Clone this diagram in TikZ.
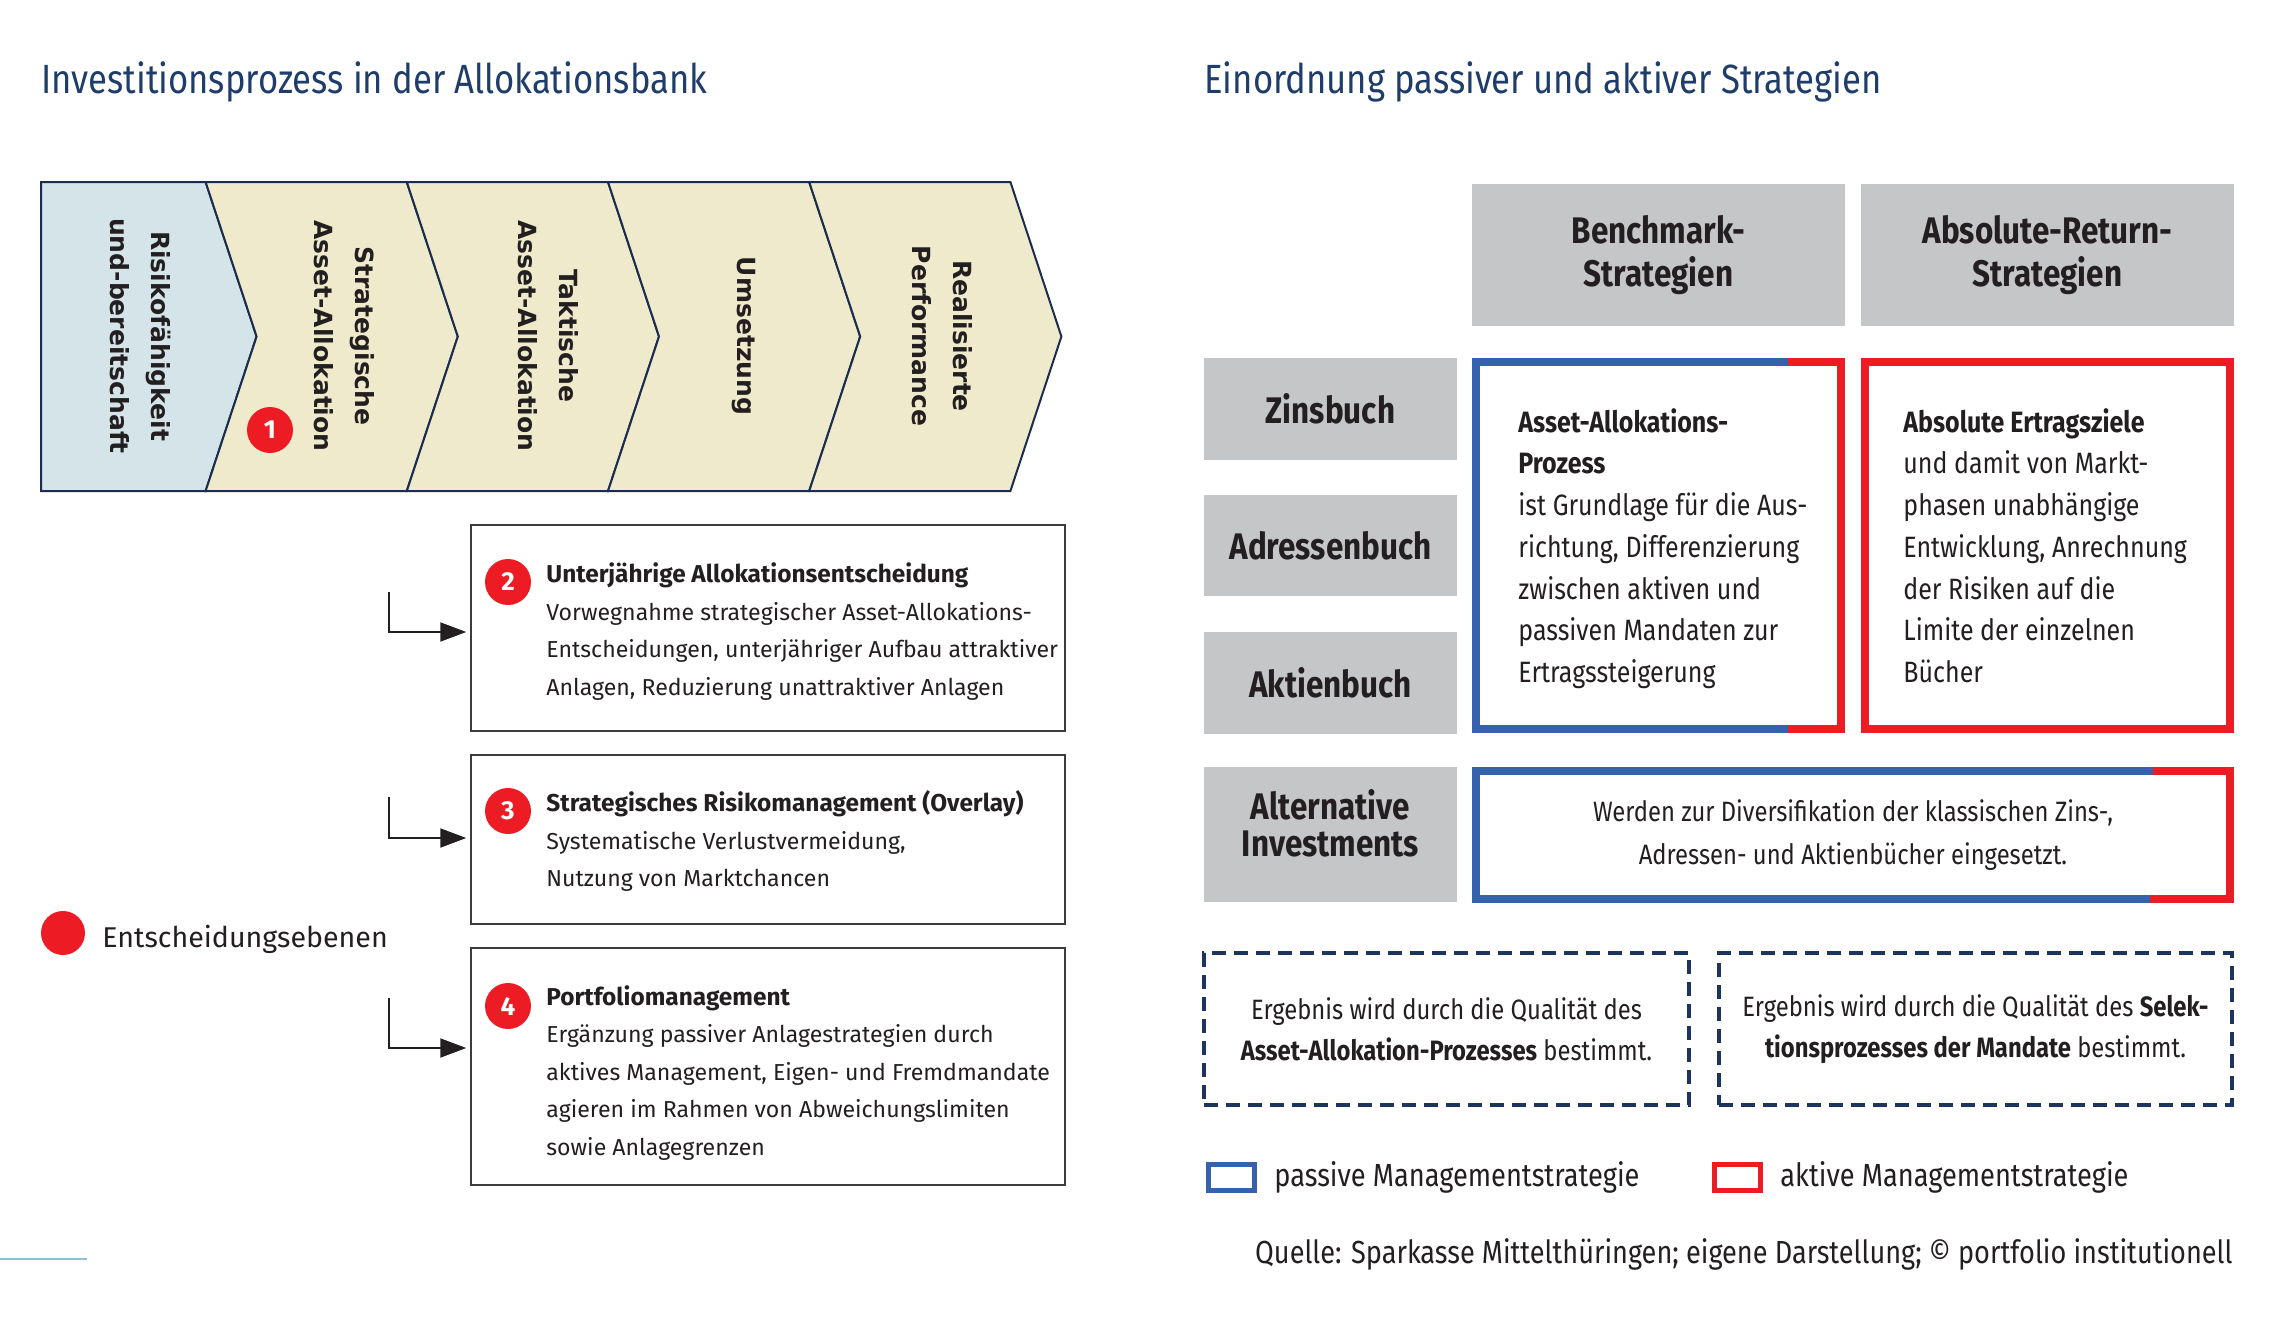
\documentclass[tikz,border=0pt]{standalone}
\usepackage{fontspec}
\setmainfont{Fira Sans}
\newfontfamily\condf[FakeStretch=0.85]{Fira Sans}
\newfontfamily\chevf{DejaVu Sans}
\usetikzlibrary{arrows.meta}
\definecolor{navy}{HTML}{1F3D6B}
\definecolor{navyd}{HTML}{1D355E}
\definecolor{chevline}{HTML}{1B2D4F}
\definecolor{chevblue}{HTML}{D4E4E8}
\definecolor{chevbeige}{HTML}{EFEACB}
\definecolor{txt}{HTML}{231F20}
\definecolor{boxline}{HTML}{3C3C3C}
\definecolor{redc}{HTML}{ED1C24}
\definecolor{bluec}{HTML}{3561AD}
\definecolor{grayc}{HTML}{C5C6C8}
\definecolor{lightline}{HTML}{8FC3CF}
\newcommand{\hdline}[1]{{\fontsize{12.2}{18.75}\selectfont\bfseries #1}}
\begin{document}
\begin{tikzpicture}[x=0.5pt,y=-0.5pt,
  chev/.style={draw=chevline,line width=1pt,line join=miter},
  chevtxt/.style={rotate=-90,align=center,inner sep=0,text=txt,font=\chevf\bfseries\fontsize{12.5}{20.5}\selectfont},
  numdot/.style={circle,fill=redc,text=white,minimum size=23pt,inner sep=0,font=\bfseries\fontsize{13}{13}\selectfont},
  infobox/.style={draw=boxline,line width=0.75pt,minimum width=297pt,inner sep=0},
  boxtxt/.style={anchor=west,align=left,inner sep=0,text=txt,font=\fontsize{11.55}{18.75}\selectfont},
  arr/.style={draw=txt,line width=1pt,shorten >=2pt,-{Triangle[length=13pt,width=9.5pt]}},
  title/.style={anchor=base west,inner sep=0,text=navy,font=\condf\fontsize{20.4}{22}\selectfont},
  graybox/.style={fill=grayc,inner sep=0,align=center,text=txt,font=\condf\bfseries\fontsize{18.5}{21.5}\selectfont},
  stratbox/.style={minimum width=186.5pt,minimum height=187.5pt,inner sep=0},
  bluebd/.style={draw=bluec,line width=4pt,line join=miter},
  redbd/.style={draw=redc,line width=4pt,line join=miter},
  strattxt/.style={anchor=west,align=left,inner sep=0,text=txt,font=\condf\fontsize{14.7}{20.85}\selectfont},
  dashbox/.style={draw=navyd,line width=1.75pt,dash pattern=on 7pt off 4pt,minimum height=76pt,inner sep=0,align=center,text=txt,font=\condf\fontsize{14}{20.5}\selectfont},
  legsq/.style={line width=2.5pt,minimum width=23pt,minimum height=13pt,inner sep=0,fill=white},
  legtxt/.style={anchor=base west,inner sep=0,text=txt,font=\condf\fontsize{16}{18}\selectfont}
]
\useasboundingbox (0,0) rectangle (2286,1317);
\fill[white] (0,0) rectangle (2286,1317);

% titles
\node[title] (t1) at (41,93) {Investitionsprozess in der Allokationsbank};
\node[title] (t2) at (1204,93) {Einordnung passiver und aktiver Strategien};

% chevron band
\filldraw[chev,fill=chevblue] (41,182) -- (205.6,182) -- (256.6,336.5) -- (205.6,491) -- (41,491) -- cycle;
\filldraw[chev,fill=chevbeige] (205.6,182) -- (406.8,182) -- (457.8,336.5) -- (406.8,491) -- (205.6,491) -- (256.6,336.5) -- cycle;
\filldraw[chev,fill=chevbeige] (406.8,182) -- (608.0,182) -- (659.0,336.5) -- (608.0,491) -- (406.8,491) -- (457.8,336.5) -- cycle;
\filldraw[chev,fill=chevbeige] (608.0,182) -- (809.2,182) -- (860.2,336.5) -- (809.2,491) -- (608.0,491) -- (659.0,336.5) -- cycle;
\filldraw[chev,fill=chevbeige] (809.2,182) -- (1010.4,182) -- (1061.4,336.5) -- (1010.4,491) -- (809.2,491) -- (860.2,336.5) -- cycle;

\node[chevtxt] (c1) at (140,336) {Risikofähigkeit\\und-bereitschaft};
\node[chevtxt] (c2) at (344,336) {Strategische\\Asset-Allokation};
\node[chevtxt] (c3) at (548,336) {Taktische\\Asset-Allokation};
\node[chevtxt] (c4) at (744,336) {Umsetzung};
\node[chevtxt] (c5) at (942,336) {Realisierte\\Performance};
\node[numdot] (n1) at (270,430) {1};

% left info boxes
\node[infobox,minimum height=103pt] (b2) at (768,628) {};
\node[infobox,minimum height=84.5pt] (b3) at (768,839.5) {};
\node[infobox,minimum height=118.5pt] (b4) at (768,1066.5) {};

\node[numdot] (n2) at (508,582) {2};
\node[numdot] (n3) at (508,811) {3};
\node[numdot] (n4) at (508,1006) {4};

\node[boxtxt] (x2) at (546,631.5) {\strut\hdline{Unterjährige Allokationsentscheidung}\\Vorwegnahme strategischer Asset-Allokations-\\Entscheidungen, unterjähriger Aufbau attraktiver\\\strut Anlagen, Reduzierung unattraktiver Anlagen};
\node[boxtxt] (x3) at (546,841.7) {\strut\hdline{Strategisches Risikomanagement (Overlay)}\\Systematische Verlustvermeidung,\\\strut Nutzung von Marktchancen};
\node[boxtxt] (x4) at (546,1072.8) {\strut\hdline{Portfoliomanagement}\\Ergänzung passiver Anlagestrategien durch\\aktives Management, Eigen- und Fremdmandate\\agieren im Rahmen von Abweichungslimiten\\\strut sowie Anlagegrenzen};

% arrows
\coordinate (s2) at (389,592); \coordinate (k2) at (389,632);
\coordinate (s3) at (389,797); \coordinate (k3) at (389,838);
\coordinate (s4) at (389,998); \coordinate (k4) at (389,1048);
\draw[arr] (s2) -- (k2) -- (k2 -| b2.west);
\draw[arr] (s3) -- (k3) -- (k3 -| b3.west);
\draw[arr] (s4) -- (k4) -- (k4 -| b4.west);

% legend left
\node[circle,fill=redc,minimum size=22pt,inner sep=0] (ld) at (63,933) {};
\node[anchor=base west,inner sep=0,text=txt,font=\fontsize{14.3}{16}\selectfont] (lt) at (102,947) {Entscheidungsebenen};
\draw[lightline,line width=1pt] (0,1259) -- (87,1259);

% right panel headers
\node[graybox,minimum width=186.5pt,minimum height=71pt] (h1) at (1658.5,255) {Benchmark-\\Strategien};
\node[graybox,minimum width=186.5pt,minimum height=71pt] (h2) at (2047.5,255) {Absolute-Return-\\Strategien};

\node[graybox,minimum width=126.5pt,minimum height=51pt] (r1) at (1330.5,409) {Zinsbuch};
\node[graybox,minimum width=126.5pt,minimum height=50.5pt] (r2) at (1330.5,545.5) {Adressenbuch};
\node[graybox,minimum width=126.5pt,minimum height=51pt] (r3) at (1330.5,683) {Aktienbuch};
\node[graybox,minimum width=126.5pt,minimum height=67.5pt] (r4) at (1330.5,834.5) {};
\node[inner sep=0,align=center,text=txt,font=\condf\bfseries\fontsize{18.5}{18.5}\selectfont] (r4t) at (1330.5,823) {Alternative\\Investments};

% strategy boxes
\node[stratbox] (sa) at (1658.5,545.5) {};
\node[stratbox] (sb) at (2047.5,545.5) {};
\draw[bluebd] (1788,362) -- (1476,362) -- (1476,729) -- (1788,729);
\draw[redbd] (1788,362) -- (1841,362) -- (1841,729) -- (1788,729);
\draw[redbd] (1865,362) rectangle (2230,729);

\node[strattxt] (ta) at (1518,549) {\strut\textbf{Asset-Allokations-}\\\textbf{Prozess}\\ist Grundlage für die Aus-\\richtung, Differenzierung\\zwischen aktiven und\\passiven Mandaten zur\\\strut Ertragssteigerung};
\node[strattxt] (tb) at (1903,549) {\strut\textbf{Absolute Ertragsziele}\\und damit von Markt-\\phasen unabhängige\\Entwicklung, Anrechnung\\der Risiken auf die\\Limite der einzelnen\\\strut Bücher};

% alternative investments box
\node[inner sep=0,minimum width=381pt,minimum height=68pt,align=center,text=txt,font=\condf\fontsize{14}{21.5}\selectfont] (ai) at (1853,835) {Werden zur Diversifikation der klassischen Zins-,\\Adressen- und Aktienbücher eingesetzt.};
\draw[bluebd] (2153,771) -- (1476,771) -- (1476,899) -- (2150,899);
\draw[redbd] (2153,771) -- (2230,771) -- (2230,899) -- (2150,899);

% dashed boxes
\node[dashbox,minimum width=242.5pt] (d1) at (1446.5,1029) {Ergebnis wird durch die Qualität des\\\textbf{Asset-Allokation-Prozesses} bestimmt.};
\node[dashbox,minimum width=256.5pt] (d2) at (1975.5,1029) {Ergebnis wird durch die Qualität des \textbf{Selek-}\\\textbf{tionsprozesses der Mandate} bestimmt.};

% legend right
\node[legsq,draw=bluec] (lb) at (1231.5,1177) {};
\node[legtxt] (lbt) at (1274,1186) {passive Managementstrategie};
\node[legsq,draw=redc] (lr) at (1737.5,1177) {};
\node[legtxt] (lrt) at (1780,1186) {aktive Managementstrategie};

% source
\node[anchor=base east,inner sep=0,text=txt,font=\condf\fontsize{15.95}{17}\selectfont] (q) at (2233,1263) {Quelle: Sparkasse Mittelthüringen; eigene Darstellung; © portfolio institutionell};
\end{tikzpicture}
\end{document}
